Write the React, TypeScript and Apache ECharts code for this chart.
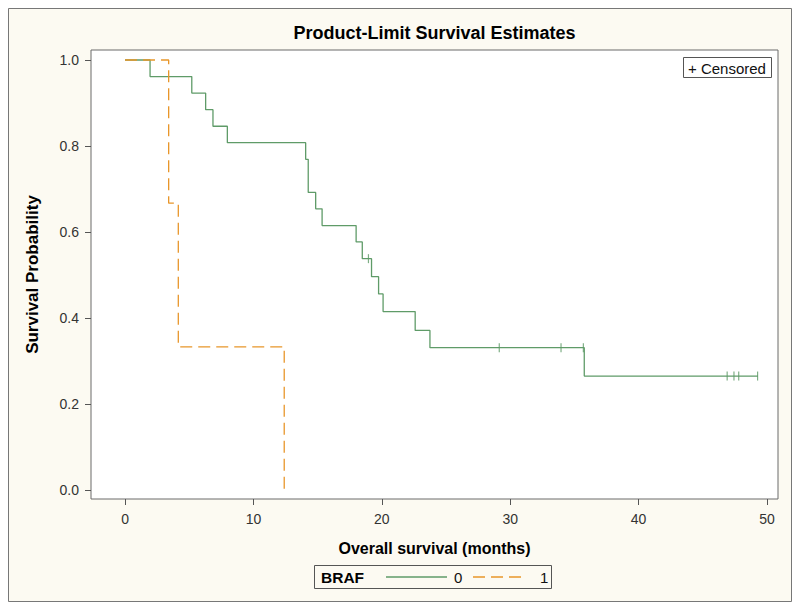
import React, { useEffect, useRef } from "react";
import * as echarts from "echarts";

// BRAF = 0 (Kaplan-Meier step points: time in months, survival probability)
const times0 = [0, 1.95, 5.2, 6.28, 6.85, 7.97, 14.07, 14.27, 14.85, 15.35, 18.0, 18.48, 19.2, 19.75, 20.1, 22.6, 23.75, 35.77, 49.3];
const surv0 = [1.0, 0.9615, 0.923, 0.8846, 0.846, 0.8077, 0.769, 0.692, 0.654, 0.615, 0.577, 0.538, 0.496, 0.456, 0.415, 0.371, 0.331, 0.265, 0.265];
// censored observations, BRAF = 0
const censorTimes0 = [18.96, 29.15, 33.96, 35.7, 46.9, 47.43, 47.8, 49.27];
const censorSurv0 = [0.538, 0.331, 0.331, 0.331, 0.265, 0.265, 0.265, 0.265];

// BRAF = 1
const times1 = [0, 3.4, 4.15, 12.4];
const surv1 = [1.0, 0.667, 0.333, 0.0];

const xTicks = [0, 10, 20, 30, 40, 50];
const yTicks = [0, 0.2, 0.4, 0.6, 0.8, 1.0];
const groupNames = ["0", "1"];

const FONT = "'Liberation Sans', Arial, sans-serif";
const GREEN = "#5F9B68";
const ORANGE = "#E8962A";

export default function App() {
  const ref = useRef<HTMLDivElement>(null);

  useEffect(() => {
    if (!ref.current) return;
    const chart = echarts.init(ref.current, null, { renderer: "svg" });

    const data0 = times0.map((t, i) => [t, surv0[i]]);
    const data1 = times1.map((t, i) => [t, surv1[i]]);
    const cens0 = censorTimes0.map((t, i) => [t, censorSurv0[i]]);

    const option: any = {
      animation: false,
      backgroundColor: "#FCFAF2",
      textStyle: { fontFamily: FONT },
      grid: {
        left: 83,
        top: 42,
        width: 687,
        height: 449,
        show: true,
        backgroundColor: "#ffffff",
        borderColor: "#6b6b6b",
        borderWidth: 1,
      },
      xAxis: {
        type: "value",
        min: -2.65,
        max: 50.86,
        splitLine: { show: false },
        axisLine: { show: false, onZero: false },
        axisTick: {
          show: true,
          inside: false,
          length: 6,
          customValues: xTicks,
          lineStyle: { color: "#555" },
        },
        axisLabel: {
          customValues: xTicks,
          margin: 13,
          fontSize: 14,
          color: "#333",
          fontFamily: FONT,
        },
        name: "Overall survival (months)",
        nameLocation: "middle",
        nameGap: 41,
        nameTextStyle: { fontSize: 16, fontWeight: "bold", color: "#000", fontFamily: FONT },
      },
      yAxis: {
        type: "value",
        min: -0.021,
        max: 1.0233,
        splitLine: { show: false },
        axisLine: { show: false, onZero: false },
        axisTick: {
          show: true,
          inside: false,
          length: 6,
          customValues: yTicks,
          lineStyle: { color: "#555" },
        },
        axisLabel: {
          customValues: yTicks,
          margin: 12,
          fontSize: 14,
          color: "#333",
          fontFamily: FONT,
          formatter: (v: number) => v.toFixed(1),
        },
        name: "Survival Probability",
        nameLocation: "middle",
        nameGap: 50,
        nameTextStyle: { fontSize: 17, fontWeight: "bold", color: "#000", fontFamily: FONT },
      },
      series: [
        {
          name: groupNames[0],
          type: "line",
          step: "end",
          data: data0,
          showSymbol: false,
          symbol: "none",
          lineStyle: { color: GREEN, width: 1.3 },
          z: 2,
        },
        {
          name: "Censored",
          type: "scatter",
          data: cens0,
          symbol: "rect",
          symbolSize: [1.2, 9],
          itemStyle: { color: GREEN },
          z: 3,
        },
        {
          name: groupNames[1],
          type: "line",
          step: "end",
          data: data1,
          showSymbol: false,
          symbol: "none",
          lineStyle: { color: ORANGE, width: 1.3, type: [12, 6] },
          z: 4,
        },
      ],
      graphic: [
        {
          type: "rect",
          shape: { x: 0.5, y: 0.5, width: 783, height: 593 },
          style: { fill: "none", stroke: "#777", lineWidth: 1 },
          silent: true,
        },
        {
          type: "text",
          x: 426.5,
          y: 25,
          style: {
            text: "Product-Limit Survival Estimates",
            fontSize: 18,
            fontWeight: "bold",
            fontFamily: FONT,
            fill: "#000",
            align: "center",
            verticalAlign: "middle",
          },
        },
        // Censored legend box
        {
          type: "rect",
          shape: { x: 675.5, y: 49.5, width: 88, height: 20 },
          style: { fill: "#fff", stroke: "#555", lineWidth: 1 },
          z: 10,
        },
        {
          type: "text",
          x: 680,
          y: 60,
          z: 11,
          style: {
            text: "+ Censored",
            fontSize: 15,
            fontFamily: FONT,
            fill: "#111",
            align: "left",
            verticalAlign: "middle",
          },
        },
        // Bottom legend
        {
          type: "rect",
          shape: { x: 306.5, y: 557.5, width: 237, height: 23 },
          style: { fill: "#FCFAF2", stroke: "#555", lineWidth: 1 },
        },
        {
          type: "text",
          x: 313,
          y: 569,
          style: {
            text: "BRAF",
            fontSize: 15.5,
            fontWeight: "bold",
            fontFamily: FONT,
            fill: "#000",
            align: "left",
            verticalAlign: "middle",
          },
        },
        {
          type: "line",
          shape: { x1: 378, y1: 569, x2: 439, y2: 569 },
          style: { stroke: GREEN, lineWidth: 1.3 },
        },
        {
          type: "text",
          x: 446,
          y: 569,
          style: {
            text: groupNames[0],
            fontSize: 15,
            fontFamily: FONT,
            fill: "#111",
            align: "left",
            verticalAlign: "middle",
          },
        },
        {
          type: "line",
          shape: { x1: 465, y1: 569, x2: 516, y2: 569 },
          style: { stroke: ORANGE, lineWidth: 1.3, lineDash: [12, 6] },
        },
        {
          type: "text",
          x: 532,
          y: 569,
          style: {
            text: groupNames[1],
            fontSize: 15,
            fontFamily: FONT,
            fill: "#111",
            align: "left",
            verticalAlign: "middle",
          },
        },
      ],
    };

    chart.setOption(option);
    return () => chart.dispose();
  }, []);

  return <div ref={ref} style={{ width: 784, height: 594 }} />;
}
